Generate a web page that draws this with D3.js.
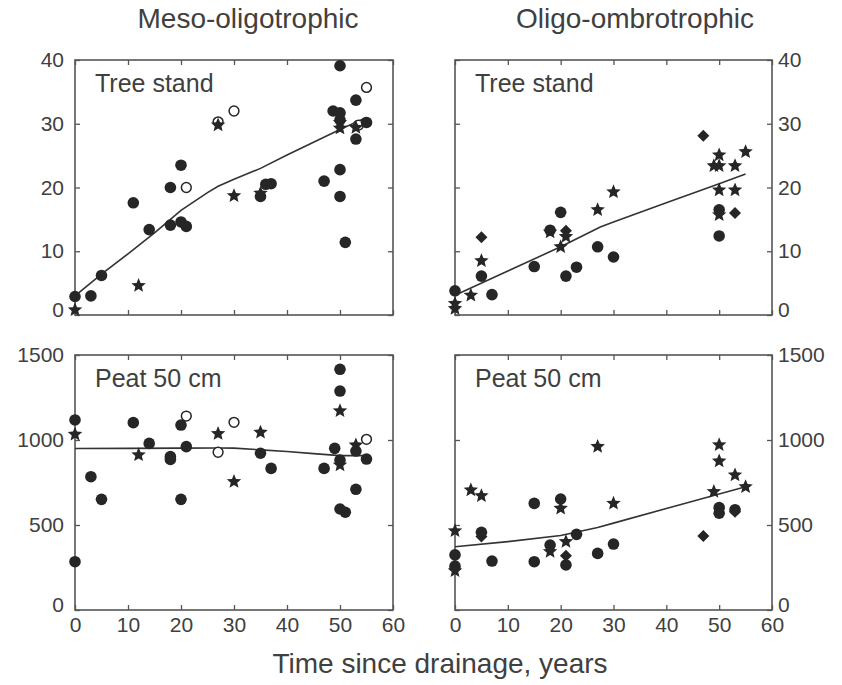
<!DOCTYPE html>
<html>
<head>
<meta charset="utf-8">
<script src="https://cdn.jsdelivr.net/npm/d3@7"></script>
<style>
  body { margin: 0; background: #fff; }
  text { font-family: "Liberation Sans", Arial, sans-serif; fill: #404040; }
</style>
</head>
<body>
<svg id="chart" width="842" height="685"></svg>
<script>
// x = years since drainage, y = value
var xTicks = [0, 10, 20, 30, 40, 50, 60]
var treeTicks = [0, 10, 20, 30, 40]
var peatTicks = [0, 500, 1000, 1500]

// Meso-oligotrophic, tree stand
var mesoTreeFilled = [[0,2.9],[3,3.0],[5,6.2],[11,17.6],[14,13.4],[18,20.0],[18,14.1],[20,23.5],[20,14.6],[21,13.9],
  [35,18.6],[36,20.5],[37,20.6],[47,21.0],[50,39.1],[48.7,32.0],[50,31.7],[50,30.6],[50,22.8],[50,18.6],[51,11.4],
  [53,33.7],[55,30.2],[53,27.6]]
var mesoTreeOpen = [[21,20.0],[27,30.3],[30,32.0],[55,35.7],[53.5,29.8]]
var mesoTreeStars = [[0,0.8],[12,4.6],[27,29.8],[30,18.7],[35,19.1],[50,30.2],[50,29.3],[53,29.4]]
var mesoTreeDiamonds = []
var mesoTreeFit = [[0,3.0],[5,6.4],[10,9.6],[15,12.9],[20,16.4],[25,19.2],[27,20.2],[30,21.3],[35,23.0],
  [40,25.1],[45,27.1],[50,29.1],[55,31.0]]

// Oligo-ombrotrophic, tree stand
var oligoTreeFilled = [[0,3.8],[5,6.1],[7,3.2],[15,7.6],[18,13.3],[20,16.1],[21,6.1],[23,7.5],[27,10.7],[30,9.1],
  [50,16.5],[50,12.4]]
var oligoTreeOpen = []
var oligoTreeStars = [[0,1.8],[0,1.0],[3,3.1],[5,8.5],[18,13.0],[20,10.7],[21,12.3],[27,16.5],[30,19.3],
  [49,23.4],[50,23.4],[50,25.1],[53,23.4],[55,25.6],[50,19.6],[53,19.6],[50,15.7]]
var oligoTreeDiamonds = [[5,12.2],[21,13.2],[47,28.1],[53,16.0]]
var oligoTreeFit = [[0,3.1],[10,6.9],[20,10.7],[27.5,13.8],[30,14.6],[40,17.6],[50,20.6],[55,22.1]]

// Meso-oligotrophic, peat 50 cm
var mesoPeatFilled = [[0,1118],[0,284],[3,784],[5,651],[11,1102],[14,980],[18,902],[18,886],[20,1088],[21,961],
  [20,651],[35,922],[37,833],[47,833],[50,1416],[50,1288],[49,951],[50,882],[50,594],[51,575],[53,710],[53,935],[55,888]]
var mesoPeatOpen = [[21,1141],[27,928],[30,1104],[55,1004]]
var mesoPeatStars = [[0,1033],[12,912],[27,1037],[30,755],[35,1045],[50,1171],[50,853],[53,970]]
var mesoPeatDiamonds = []
var mesoPeatFit = [[0,950],[10,951],[20,952],[27,953],[30,952],[35,942],[40,932],[45,920],[50,908],[55,908]]

// Oligo-ombrotrophic, peat 50 cm
var oligoPeatFilled = [[0,324],[0,258],[5,457],[7,288],[15,627],[15,284],[18,382],[20,653],[21,265],[23,445],
  [27,333],[30,388],[50,602],[50,569],[53,590]]
var oligoPeatOpen = []
var oligoPeatStars = [[0,465],[0,230],[3,706],[5,672],[18,343],[20,598],[21,402],[27,961],[30,627],
  [49,696],[50,971],[50,876],[53,794],[55,725]]
var oligoPeatDiamonds = [[0,245],[5,432],[21,319],[47,435],[53,578]]
var oligoPeatFit = [[0,372],[10,402],[20,438],[27,485],[30,511],[40,597],[50,682],[55,725]]

var panels = [
  { x: 75, y: 60, w: 318, h: 255, ymax: 40, yTicks: treeTicks, label: "Tree stand", side: "left", xLabels: false,
    filled: mesoTreeFilled, open: mesoTreeOpen, stars: mesoTreeStars, diamonds: mesoTreeDiamonds, fit: mesoTreeFit },
  { x: 455, y: 60, w: 317, h: 255, ymax: 40, yTicks: treeTicks, label: "Tree stand", side: "right", xLabels: false,
    filled: oligoTreeFilled, open: oligoTreeOpen, stars: oligoTreeStars, diamonds: oligoTreeDiamonds, fit: oligoTreeFit },
  { x: 75, y: 355, w: 318, h: 255, ymax: 1500, yTicks: peatTicks, label: "Peat 50 cm", side: "left", xLabels: true,
    filled: mesoPeatFilled, open: mesoPeatOpen, stars: mesoPeatStars, diamonds: mesoPeatDiamonds, fit: mesoPeatFit },
  { x: 455, y: 355, w: 317, h: 255, ymax: 1500, yTicks: peatTicks, label: "Peat 50 cm", side: "right", xLabels: true,
    filled: oligoPeatFilled, open: oligoPeatOpen, stars: oligoPeatStars, diamonds: oligoPeatDiamonds, fit: oligoPeatFit }
]

var ink = "#262626"
var frame = "#555"

// fat five-pointed star
function starPath(R) {
  var pts = []
  for (var i = 0; i < 10; i++) {
    pts.push([i * Math.PI / 5, i % 2 ? R * 0.45 : R])
  }
  return d3.lineRadial().curve(d3.curveLinearClosed)(pts)
}

var svg = d3.select("#chart")

svg.append("text").attr("x", 248).attr("y", 28).attr("text-anchor", "middle")
  .style("font-size", "28px").text("Meso-oligotrophic")
svg.append("text").attr("x", 635).attr("y", 28).attr("text-anchor", "middle")
  .style("font-size", "28px").text("Oligo-ombrotrophic")
svg.append("text").attr("x", 440).attr("y", 673).attr("text-anchor", "middle")
  .style("font-size", "28px").text("Time since drainage, years")

panels.forEach(function(p) {
  var x = d3.scaleLinear().domain([0, 60]).range([0, p.w])
  var y = d3.scaleLinear().domain([0, p.ymax]).range([p.h, 0])

  var g = svg.append("g").attr("transform", "translate(" + p.x + "," + p.y + ")")

  // inward ticks on all four sides
  g.append("g").attr("transform", "translate(0," + p.h + ")")
    .call(d3.axisBottom(x).tickValues(xTicks).tickSizeInner(-5).tickSizeOuter(0).tickPadding(7)
      .tickFormat(p.xLabels ? d3.format("d") : ""))
  g.append("g")
    .call(d3.axisTop(x).tickValues(xTicks).tickSizeInner(-5).tickSizeOuter(0).tickFormat(""))
  var left = g.append("g")
    .call(d3.axisLeft(y).tickValues(p.yTicks).tickSizeInner(-5).tickSizeOuter(0).tickPadding(11)
      .tickFormat(p.side == "left" ? d3.format("d") : ""))
  var right = g.append("g").attr("transform", "translate(" + p.w + ",0)")
    .call(d3.axisRight(y).tickValues(p.yTicks).tickSizeInner(-5).tickSizeOuter(0).tickPadding(6)
      .tickFormat(p.side == "right" ? d3.format("d") : ""))

  g.selectAll(".domain").remove()
  g.selectAll(".tick line").attr("stroke", frame).attr("stroke-width", 1.3)
  g.selectAll(".tick text").style("font-size", "21px").attr("fill", "#404040")
    .style("font-family", '"Liberation Sans", Arial, sans-serif')
  // the zero labels sit a little higher, clear of the x labels
  left.selectAll(".tick text").filter(function(d) { return d == 0 }).attr("dy", "0.08em")
  right.selectAll(".tick text").filter(function(d) { return d == 0 }).attr("dy", "0.08em")

  g.append("rect").attr("width", p.w).attr("height", p.h)
    .attr("fill", "none").attr("stroke", frame).attr("stroke-width", 1.6)

  g.append("text").attr("x", 20).attr("y", 32)
    .style("font-size", "25px").text(p.label)

  // fitted curve
  g.append("path")
    .datum(p.fit)
    .attr("fill", "none").attr("stroke", "#333").attr("stroke-width", 1.6)
    .attr("d", d3.line().x(function(d) { return x(d[0]) }).y(function(d) { return y(d[1]) }))

  g.selectAll(".open").data(p.open).enter().append("circle")
    .attr("cx", function(d) { return x(d[0]) })
    .attr("cy", function(d) { return y(d[1]) })
    .attr("r", 4.9).attr("fill", "#fff").attr("stroke", ink).attr("stroke-width", 1.5)

  g.selectAll(".dot").data(p.filled).enter().append("circle")
    .attr("cx", function(d) { return x(d[0]) })
    .attr("cy", function(d) { return y(d[1]) })
    .attr("r", 5.8).attr("fill", ink)

  g.selectAll(".diamond").data(p.diamonds).enter().append("path")
    .attr("transform", function(d) { return "translate(" + x(d[0]) + "," + y(d[1]) + ") rotate(45)" })
    .attr("d", d3.symbol().type(d3.symbolSquare).size(72))
    .attr("fill", ink)

  g.selectAll(".star").data(p.stars).enter().append("path")
    .attr("transform", function(d) { return "translate(" + x(d[0]) + "," + y(d[1]) + ")" })
    .attr("d", starPath(7.6))
    .attr("fill", ink)
})
</script>
</body>
</html>
